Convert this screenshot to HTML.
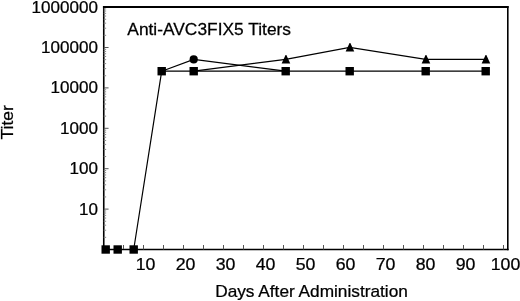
<!DOCTYPE html><html><head><meta charset="utf-8"><style>html,body{margin:0;padding:0;background:#fff;width:520px;height:301px;overflow:hidden}svg{display:block;filter:grayscale(1)}text{font-family:"Liberation Sans",sans-serif;fill:#000;stroke:#000;stroke-width:0.25px}</style></head><body>
<svg width="520" height="301" viewBox="0 0 520 301">
<path d="M102.95 7H508.6" stroke="#000" stroke-width="1.8"/>
<path d="M102.95 249.5H508.6" stroke="#000" stroke-width="1.6"/>
<path d="M103.75 6.1V250.3" stroke="#000" stroke-width="1.6"/>
<path d="M507.8 6.1V250.3" stroke="#000" stroke-width="1.6"/>
<path d="M103.75 209.10h4.8 M103.75 168.70h4.8 M103.75 128.30h4.8 M103.75 87.90h4.8 M103.75 47.50h4.8" stroke="#555" stroke-width="1"/>
<path d="M103.75 237.34h2.4 M103.75 230.22h2.4 M103.75 225.18h2.4 M103.75 221.26h2.4 M103.75 218.06h2.4 M103.75 215.36h2.4 M103.75 213.02h2.4 M103.75 210.95h2.4 M103.75 196.94h2.4 M103.75 189.82h2.4 M103.75 184.78h2.4 M103.75 180.86h2.4 M103.75 177.66h2.4 M103.75 174.96h2.4 M103.75 172.62h2.4 M103.75 170.55h2.4 M103.75 156.54h2.4 M103.75 149.42h2.4 M103.75 144.38h2.4 M103.75 140.46h2.4 M103.75 137.26h2.4 M103.75 134.56h2.4 M103.75 132.22h2.4 M103.75 130.15h2.4 M103.75 116.14h2.4 M103.75 109.02h2.4 M103.75 103.98h2.4 M103.75 100.06h2.4 M103.75 96.86h2.4 M103.75 94.16h2.4 M103.75 91.82h2.4 M103.75 89.75h2.4 M103.75 75.74h2.4 M103.75 68.62h2.4 M103.75 63.58h2.4 M103.75 59.66h2.4 M103.75 56.46h2.4 M103.75 53.76h2.4 M103.75 51.42h2.4 M103.75 49.35h2.4 M103.75 35.34h2.4 M103.75 28.22h2.4 M103.75 23.18h2.4 M103.75 19.26h2.4 M103.75 16.06h2.4 M103.75 13.36h2.4 M103.75 11.02h2.4 M103.75 8.95h2.4" stroke="#888" stroke-width="1"/>
<path d="M123.50 249.5v-4.5 M143.50 249.5v-4.5 M163.50 249.5v-4.5 M183.50 249.5v-4.5 M203.50 249.5v-4.5 M223.50 249.5v-4.5 M243.50 249.5v-4.5 M263.50 249.5v-4.5 M283.50 249.5v-4.5 M303.50 249.5v-4.5 M323.50 249.5v-4.5 M343.50 249.5v-4.5 M363.50 249.5v-4.5 M383.50 249.5v-4.5 M403.50 249.5v-4.5 M423.50 249.5v-4.5 M443.50 249.5v-4.5 M463.50 249.5v-4.5 M483.50 249.5v-4.5 M503.50 249.5v-4.5" stroke="#555" stroke-width="1"/>
<text transform="translate(97.9 214.60) scale(1.065 1)" text-anchor="end" font-size="16">10</text>
<text transform="translate(97.9 174.20) scale(1.065 1)" text-anchor="end" font-size="16">100</text>
<text transform="translate(97.9 133.80) scale(1.065 1)" text-anchor="end" font-size="16">1000</text>
<text transform="translate(97.9 93.40) scale(1.065 1)" text-anchor="end" font-size="16">10000</text>
<text transform="translate(97.9 53.00) scale(1.065 1)" text-anchor="end" font-size="16">100000</text>
<text transform="translate(97.9 12.60) scale(1.065 1)" text-anchor="end" font-size="16">1000000</text>
<text transform="translate(145.55 269.9) scale(1.1076 1)" text-anchor="middle" font-size="16">10</text>
<text transform="translate(185.55 269.9) scale(1.1076 1)" text-anchor="middle" font-size="16">20</text>
<text transform="translate(225.55 269.9) scale(1.1076 1)" text-anchor="middle" font-size="16">30</text>
<text transform="translate(265.55 269.9) scale(1.1076 1)" text-anchor="middle" font-size="16">40</text>
<text transform="translate(305.55 269.9) scale(1.1076 1)" text-anchor="middle" font-size="16">50</text>
<text transform="translate(345.55 269.9) scale(1.1076 1)" text-anchor="middle" font-size="16">60</text>
<text transform="translate(385.55 269.9) scale(1.1076 1)" text-anchor="middle" font-size="16">70</text>
<text transform="translate(425.55 269.9) scale(1.1076 1)" text-anchor="middle" font-size="16">80</text>
<text transform="translate(465.55 269.9) scale(1.1076 1)" text-anchor="middle" font-size="16">90</text>
<text transform="translate(505.55 269.9) scale(1.1076 1)" text-anchor="middle" font-size="16">100</text>
<text transform="translate(127.3 34.5) scale(1.0863 1)" font-size="16">Anti-AVC3FIX5 Titers</text>
<text transform="translate(215.2 296.8) scale(1.0788449999999998 1)" font-size="16">Days After Administration</text>
<text transform="translate(13.3 122.3) rotate(-90) scale(1.0916249999999998 1)" text-anchor="middle" font-size="16">Titer</text>
<polyline points="105.70,249.50 117.70,249.50 133.70,249.50 161.70,71.20 193.70,71.20 285.70,71.20 349.70,71.20 425.70,71.20 485.70,71.20" fill="none" stroke="#000" stroke-width="1.2"/>
<polyline points="161.70,71.20 193.70,59.40 285.70,71.20" fill="none" stroke="#000" stroke-width="1.2"/>
<polyline points="193.70,71.20 285.70,59.40 349.70,47.40 425.70,59.40 485.70,59.40" fill="none" stroke="#000" stroke-width="1.2"/>
<rect x="101.50" y="245.30" width="8.4" height="8.4" fill="#000"/>
<rect x="113.50" y="245.30" width="8.4" height="8.4" fill="#000"/>
<rect x="129.50" y="245.30" width="8.4" height="8.4" fill="#000"/>
<rect x="157.50" y="67.00" width="8.4" height="8.4" fill="#000"/>
<rect x="189.50" y="67.00" width="8.4" height="8.4" fill="#000"/>
<rect x="281.50" y="67.00" width="8.4" height="8.4" fill="#000"/>
<rect x="345.50" y="67.00" width="8.4" height="8.4" fill="#000"/>
<rect x="421.50" y="67.00" width="8.4" height="8.4" fill="#000"/>
<rect x="481.50" y="67.00" width="8.4" height="8.4" fill="#000"/>
<circle cx="193.70" cy="59.40" r="4.1" fill="#000"/>
<path d="M285.55 55.10H286.35L290.25 63.50H281.65Z" fill="#000"/>
<path d="M349.55 43.10H350.35L354.25 51.50H345.65Z" fill="#000"/>
<path d="M425.55 55.10H426.35L430.25 63.50H421.65Z" fill="#000"/>
<path d="M485.55 55.10H486.35L490.25 63.50H481.65Z" fill="#000"/>
</svg></body></html>
